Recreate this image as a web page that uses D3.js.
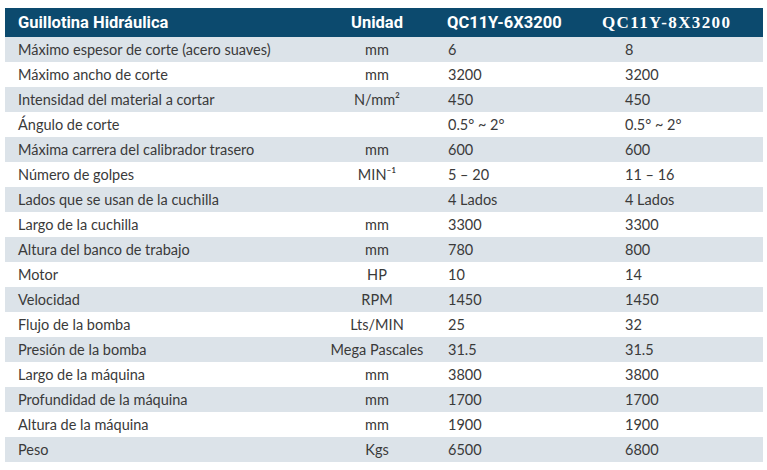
<!DOCTYPE html>
<html><head><meta charset="utf-8">
<script src="https://cdn.jsdelivr.net/npm/d3@7"></script>
<style>body{margin:0;background:#fff}</style>
</head><body><div id="chart"></div>
<script>
const w = 767, h = 470;

const headers = ["Guillotina Hidráulica", "Unidad", "QC11Y-6X3200", "QC11Y-8X3200"];
const labels = ["Máximo espesor de corte (acero suaves)", "Máximo ancho de corte", "Intensidad del material a cortar",
  "Ángulo de corte", "Máxima carrera del calibrador trasero", "Número de golpes", "Lados que se usan de la cuchilla",
  "Largo de la cuchilla", "Altura del banco de trabajo", "Motor", "Velocidad", "Flujo de la bomba",
  "Presión de la bomba", "Largo de la máquina", "Profundidad de la máquina", "Altura de la máquina", "Peso"];
const units = ["mm", "mm", "N/mm²", "", "mm", "MIN⁻¹", "", "mm", "mm", "HP", "RPM", "Lts/MIN",
  "Mega Pascales", "mm", "mm", "mm", "Kgs"];
const model6 = ["6", "3200", "450", "0.5° ~ 2°", "600", "5 – 20", "4 Lados", "3300", "780", "10", "1450", "25",
  "31.5", "3800", "1700", "1900", "6500"];
const model8 = ["8", "3200", "450", "0.5° ~ 2°", "600", "11 – 16", "4 Lados", "3300", "800", "14", "1450", "32",
  "31.5", "3800", "1700", "1900", "6800"];

const rows = labels.map((l, i) => ({label: l, unit: units[i], a: model6[i], b: model8[i]}));

const svg = d3.select("#chart").append("svg").attr("width", w).attr("height", h);

const y = d3.scaleBand().domain(d3.range(rows.length)).range([37, 462]);
const left = 5, right = 763;

// header
svg.append("rect").attr("x", left).attr("y", 8).attr("width", right - left).attr("height", 29).attr("fill", "#0c4a6e");
const hx = [18, 377, 447, 602];
headers.forEach((t, i) => {
  svg.append("text")
    .attr("x", hx[i]).attr("y", 28)
    .attr("text-anchor", i == 1 ? "middle" : "start")
    .attr("fill", "#fff")
    .attr("font-family", i == 3 ? "Liberation Serif" : "Roboto, Lato, sans-serif")
    .attr("font-weight", "bold")
    .attr("font-size", i == 3 ? 17 : 16.5)
    .attr("textLength", i == 3 ? 128 : null)
    .text(t);
});

const g = svg.selectAll("g.row").data(rows).enter().append("g")
  .attr("class", "row")
  .attr("transform", (d, i) => "translate(0," + y(i) + ")");

g.append("rect").attr("x", left).attr("width", right - left).attr("height", y.bandwidth())
  .attr("fill", (d, i) => i % 2 == 0 ? "#dce3e9" : "#fff");

const txt = (sel, x, anchor, f) => sel.append("text")
  .attr("x", x).attr("y", y.bandwidth() / 2 + 5)
  .attr("text-anchor", anchor)
  .attr("fill", "#3a3a3a")
  .attr("font-family", "Lato, 'Open Sans', sans-serif")
  .attr("font-size", 14.5)
  .text(f);

txt(g, 18, "start", d => d.label);
txt(g, 377, "middle", d => d.unit);
txt(g, 448, "start", d => d.a);
txt(g, 625, "start", d => d.b);
</script>
</body></html>
